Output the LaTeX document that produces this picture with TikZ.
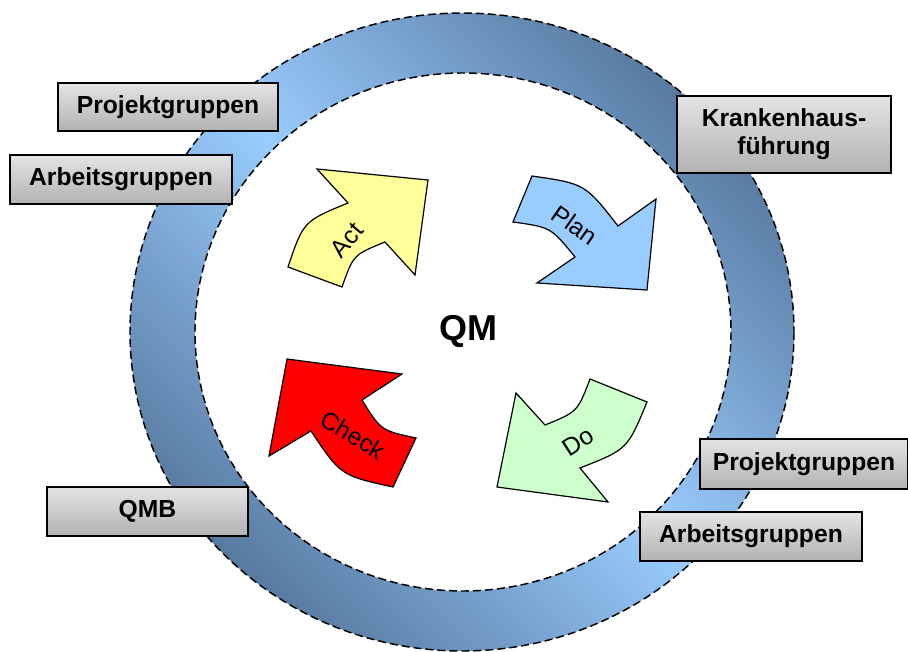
\documentclass[tikz,border=0pt]{standalone}
\usepackage{fontspec}
\setmainfont{Liberation Sans}
\usepackage{xcolor}
\definecolor{qmlight}{RGB}{153,204,255}
\definecolor{qmdark}{RGB}{88,122,160}
\definecolor{qmyellow}{RGB}{255,255,153}
\definecolor{qmblue}{RGB}{153,204,255}
\definecolor{qmgreen}{RGB}{204,255,204}
\definecolor{qmred}{RGB}{255,0,0}
\definecolor{boxtop}{RGB}{228,228,228}
\definecolor{boxbottom}{RGB}{178,178,178}
\usepackage{tikz}
\usetikzlibrary{calc}

\begin{document}
\begin{tikzpicture}[x=0.75pt, y=-0.75pt,
  grpbox/.style={draw=black, line width=1.1pt, top color=boxtop, bottom color=boxbottom,
    font=\fontsize{18.5}{21}\selectfont\bfseries, align=center, inner sep=0pt},
  pdca/.style={draw=black, line width=0.9pt, line join=miter},
  pdcalabel/.style={font=\fontsize{18.5}{20}\selectfont},
  ringline/.style={line width=1.1pt, dash pattern=on 6pt off 3pt}]
  \useasboundingbox (0,0) rectangle (908,652);
  % Ring
  \shade[shading=axis, top color=qmdark, bottom color=qmdark, middle color=qmlight,
    shading angle=-45] (462,332) ellipse [x radius=332, y radius=319];
  \fill[white] (463,332) ellipse [x radius=268, y radius=259];
  \draw[ringline] (462,332) ellipse [x radius=332, y radius=319];
  \draw[ringline] (463,332) ellipse [x radius=268, y radius=259];
  % Act
  \draw[pdca, fill=qmyellow] (288,267) -- (342,287) .. controls (353.4,254.8) .. (385,242)
    -- (415,275) -- (428,180) -- (317,169) -- (348,203) .. controls (303.4,221.3) .. cycle;
  % Plan
  \draw[pdca, fill=qmblue] (532,176) .. controls (585,183.7) .. (618,226) -- (656,199)
    -- (647,290) -- (537,283) -- (575,257) .. controls (550.9,227.3) .. (513,222) -- cycle;
  % Do
  \draw[pdca, fill=qmgreen] (590,379) -- (647,402) .. controls (627.5,449.3) .. (580,468)
    -- (608,502) -- (497,487) -- (516,393) -- (545,425) .. controls (577.5,411.8) .. cycle;
  % Check
  \draw[pdca, fill=qmred] (287,359) -- (402,374) -- (362,400) .. controls (380.9,430.5) .. (416,438)
    -- (393,487) .. controls (340.7,475.5) .. (311,431) -- (269,456) -- cycle;
  % Labels
  \foreach \n/\t/\x/\y/\a in {act/Act/347/240/50, plan/Plan/575/225/-35,
    do/Do/578/442/33, check/Check/353/435/-31}
    \node[pdcalabel, rotate=\a] (\n) at (\x,\y) {\t};
  \node[font=\fontsize{27}{30}\selectfont\bfseries] (qm) at (468,331) {QM};
  % Groups
  \foreach \n/\x/\y/\w/\h/\t in {
    projA/168/107/165pt/36pt/{Projektgruppen},
    arbA/121/179.5/166.5pt/36.75pt/{Arbeitsgruppen},
    kh/784/134.5/160.5pt/57.75pt/{Krankenhaus-\\führung},
    qmb/147.5/511.5/150.75pt/36.75pt/{QMB},
    projB/804/464/156pt/37.5pt/{Projektgruppen},
    arbB/751/536.5/166.5pt/36.75pt/{Arbeitsgruppen}}
    \node[grpbox, minimum width=\w, minimum height=\h] (\n) at (\x,\y) {\t};
\end{tikzpicture}
\end{document}
